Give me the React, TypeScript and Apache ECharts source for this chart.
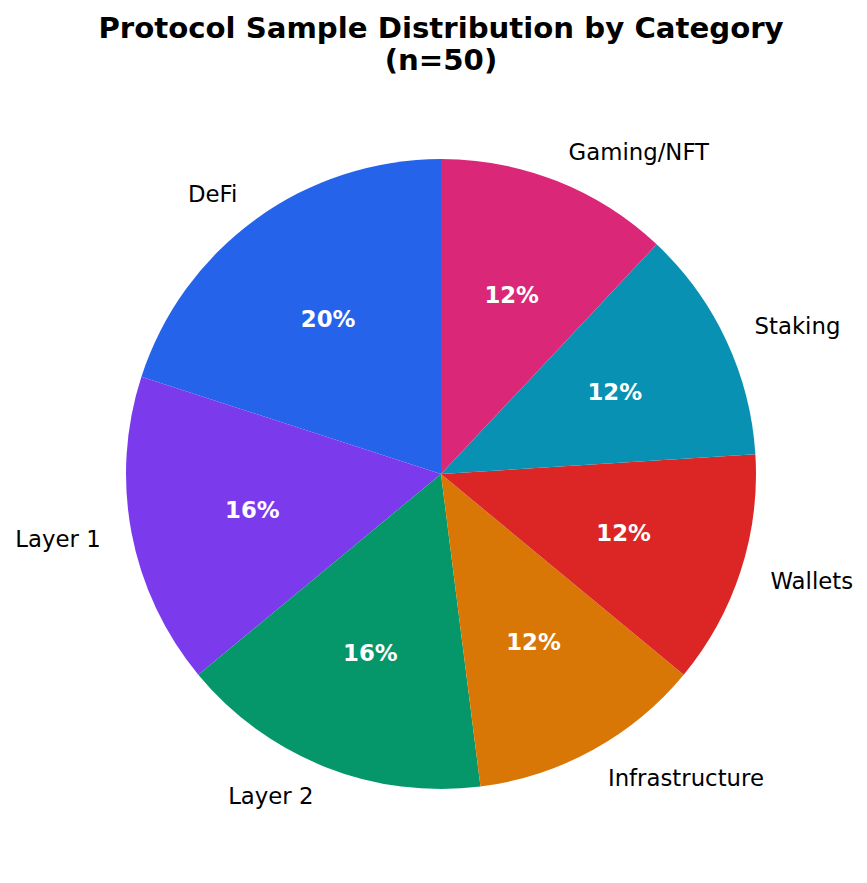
import React, { useEffect, useRef } from 'react'
import * as echarts from 'echarts'

const categories = ['DeFi', 'Layer 1', 'Layer 2', 'Infrastructure', 'Wallets', 'Staking', 'Gaming/NFT']
const counts = [10, 8, 8, 6, 6, 6, 6]
const colors = ['#2563eb', '#7c3aed', '#059669', '#d97706', '#dc2626', '#0891b2', '#db2777']

const FONT = '"DejaVu Sans", Verdana, sans-serif'
const R = 315

export default function App() {
  const chartRef = useRef<HTMLDivElement>(null)

  useEffect(() => {
    if (!chartRef.current) {
      return
    }
    const chart = echarts.init(chartRef.current, null, { renderer: 'svg' })

    const pieData = categories.map((name, i) => ({
      name,
      value: counts[i],
      itemStyle: { color: colors[i] }
    }))

    const option = {
      animation: false,
      backgroundColor: '#ffffff',
      title: {
        text: 'Protocol Sample Distribution by Category\n(n=50)',
        // title padding adds 5px, so 436 puts the text centre at 441
        left: 436,
        top: 7,
        textAlign: 'center',
        textStyle: {
          fontFamily: FONT,
          fontSize: 29.2,
          fontWeight: 'bold',
          color: '#000000',
          lineHeight: 32
        }
      },
      series: [
        {
          name: 'names',
          type: 'pie',
          center: [441, 474],
          radius: [0, R],
          startAngle: 90,
          clockwise: false,
          avoidLabelOverlap: false,
          silent: true,
          data: pieData,
          itemStyle: { borderWidth: 0 },
          label: {
            show: true,
            position: 'outside',
            formatter: '{b}',
            fontFamily: FONT,
            fontSize: 22.8,
            color: '#000000',
            distanceToLabelLine: 0
          },
          labelLine: {
            show: false,
            length: R * 0.1,
            length2: 0
          }
        },
        {
          name: 'percents',
          type: 'pie',
          center: [441, 474],
          radius: [0, R * 1.2],
          startAngle: 90,
          clockwise: false,
          silent: true,
          data: pieData.map(d => ({ ...d, itemStyle: { color: 'rgba(0,0,0,0)' } })),
          itemStyle: { borderWidth: 0 },
          label: {
            show: true,
            position: 'inside',
            formatter: (p: any) => `${Math.round(p.percent)}%`,
            fontFamily: FONT,
            fontSize: 22.8,
            fontWeight: 'bold',
            color: '#ffffff'
          },
          labelLine: { show: false }
        }
      ]
    }

    chart.setOption(option)

    return () => {
      chart.dispose()
    }
  }, [])

  return (
    <div
      ref={chartRef}
      style={{ position: 'absolute', left: 0, top: 0, width: 867, height: 883 }}
    />
  )
}
